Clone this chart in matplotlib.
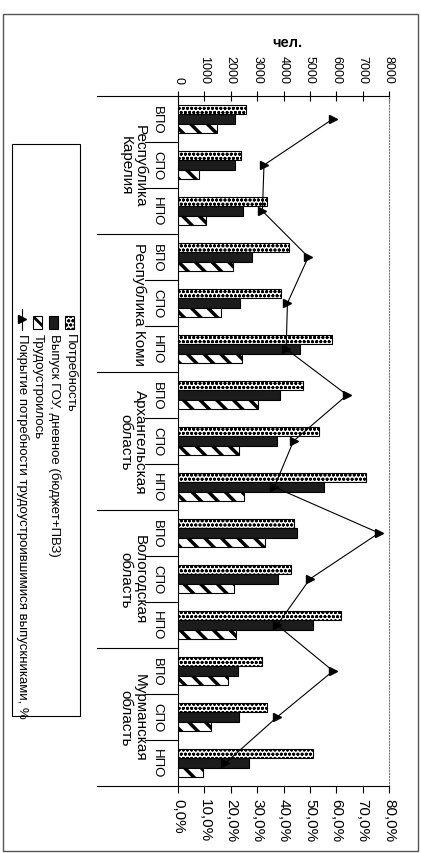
import numpy as np
import matplotlib.pyplot as plt
from matplotlib.patches import Rectangle
from matplotlib.lines import Line2D
import matplotlib.transforms as mtransforms

plt.rcParams['font.family'] = ['Liberation Sans Narrow', 'Liberation Sans', 'DejaVu Sans']

# --- данные (чел. и %) ---
regions = ['Республика\nКарелия', 'Республика Коми', 'Архангельская\nобласть',
           'Вологодская\nобласть', 'Мурманская\nобласть']
levels = ['ВПО', 'СПО', 'НПО']

need = [2560, 2370, 3390, 4190, 3920, 5840, 4740, 5330, 7110, 4410, 4280, 6170, 3190, 3370, 5120]
vypusk = [2160, 2180, 2460, 2790, 2350, 4630, 3850, 3770, 5520, 4530, 3800, 5130, 2290, 2320, 2680]
employed = [1490, 790, 1080, 2080, 1630, 2410, 3020, 2310, 2500, 3310, 2120, 2200, 1880, 1270, 930]
coverage = [58.7, 32.6, 32.0, 49.4, 41.5, 41.0, 64.1, 43.8, 36.5, 76.2, 50.0, 37.6, 58.8, 37.6, 18.0]

people_ticks = [0, 1000, 2000, 3000, 4000, 5000, 6000, 7000, 8000]
pct_ticks = [0, 10, 20, 30, 40, 50, 60, 70, 80]

legend_labels = ['Потребность', 'Выпуск ГОУ, дневное (бюджет+ПВЗ)', 'Трудоустроилось',
                 'Покрытие потребности трудоустроившимися выпускниками, %']

W, H = 421, 854
fig = plt.figure(figsize=(W / 100, H / 100), dpi=100)


def fx(px):
    return px / W


def fy(py):
    return 1 - py / H


ax = fig.add_axes([fx(178), fy(787), fx(389) - fx(178), fy(97) - fy(787)])

n = len(need)
y = np.arange(n)
bw = 0.21

plt.rcParams['hatch.linewidth'] = 0.9
ax.barh(y - bw, need, height=bw, color='white', edgecolor='black', hatch='oooo', linewidth=0.8)
ax.barh(y, vypusk, height=bw, color='#1c1c1c', edgecolor='black', linewidth=0.8)
plt.rcParams['hatch.linewidth'] = 2.5
ax.barh(y + bw, employed, height=bw, color='white', edgecolor='black', hatch='\\\\', linewidth=0.8)

ax.set_xlim(0, 8000)
ax.set_ylim(n - 0.5, -0.5)
ax.set_yticks([])

# --- вторая ось: покрытие, % ---
ax2 = ax.twiny()
ax2.set_xlim(0, 80)
ax2.xaxis.tick_bottom()
ax2.set_xticks(pct_ticks)
ax2.set_xticklabels([f'{t:.1f}%'.replace('.', ',') for t in pct_ticks])
ax2.tick_params(axis='x', direction='out', length=5, width=0.8, pad=4,
                labelrotation=-90, labelsize=11)
for s in ['top', 'left', 'right']:
    ax2.spines[s].set_visible(False)
ax2.plot(coverage, y, color='black', lw=0.8, marker='>', markersize=6)

# ось "чел." сверху (twiny переносит её вниз, возвращаем)
ax.xaxis.tick_top()
ax.xaxis.set_label_position('top')
ax.set_xticks(people_ticks)
ax.set_xticklabels([str(t) for t in people_ticks])
ax.tick_params(axis='x', direction='inout', length=7, width=0.8, pad=6,
               labelrotation=-90, labelsize=9)
ax.spines['right'].set_linestyle(':')
ax.spines['right'].set_color('#777777')
ax.spines['bottom'].set_visible(False)

# --- подписи категорий ---
tr = mtransforms.blended_transform_factory(ax.transAxes, ax.transData)
for i in range(n):
    ax.text(-0.1, i, levels[i % 3], transform=tr, rotation=-90, rotation_mode='anchor',
            ha='center', va='center', fontsize=9.5)
    if i % 3 != 2:
        ax.plot([-0.156, 0], [i + 0.5, i + 0.5], transform=tr, color='black',
                lw=0.8, clip_on=False)
for k, name in enumerate(regions):
    ax.text(-0.148, 3 * k + 1, name, transform=tr, rotation=-90, rotation_mode='anchor',
            ha='center', va='top', fontsize=11, linespacing=1.0)
for b in range(len(regions) + 1):
    ax.plot([-0.384, 0], [3 * b - 0.5, 3 * b - 0.5], transform=tr, color='black',
            lw=0.8, clip_on=False)

fig.text(fx(287), fy(43), 'чел.', ha='center', va='center', fontsize=10.5,
         fontweight='bold', family='Liberation Sans')

# --- легенда ---
fig.patches.append(Rectangle((fx(12), fy(717)), fx(80) - fx(12), fy(145) - fy(717),
                             transform=fig.transFigure, fill=False, edgecolor='black', lw=0.8))
xs = [70, 54, 38, 22]
plt.rcParams['hatch.linewidth'] = 0.9
fig.patches.append(Rectangle((fx(65), fy(330)), fx(9), fy(317) - fy(330), transform=fig.transFigure,
                             facecolor='white', edgecolor='black', hatch='oooo', lw=0.8))
fig.patches.append(Rectangle((fx(49), fy(330)), fx(9), fy(317) - fy(330), transform=fig.transFigure,
                             facecolor='#1c1c1c', edgecolor='black', lw=0.8))
plt.rcParams['hatch.linewidth'] = 2.0
fig.patches.append(Rectangle((fx(33), fy(330)), fx(9), fy(317) - fy(330), transform=fig.transFigure,
                             facecolor='white', edgecolor='black', hatch='\\\\', lw=0.8))
fig.lines.append(Line2D([fx(22), fx(22)], [fy(310), fy(331)], transform=fig.transFigure,
                        color='black', lw=0.8))
fig.lines.append(Line2D([fx(22)], [fy(320)], transform=fig.transFigure, color='black',
                        marker='>', markersize=6))
for xp, lab in zip(xs, legend_labels):
    fig.text(fx(xp), fy(334), lab, rotation=-90, rotation_mode='anchor',
             ha='left', va='center', fontsize=9.5)

# рамка вокруг всего рисунка
fig.patches.append(Rectangle((fx(3), fy(852)), fx(418) - fx(3), fy(15) - fy(852),
                             transform=fig.transFigure, fill=False, edgecolor='#555555', lw=1.0))

plt.savefig('out.png', dpi=100)
